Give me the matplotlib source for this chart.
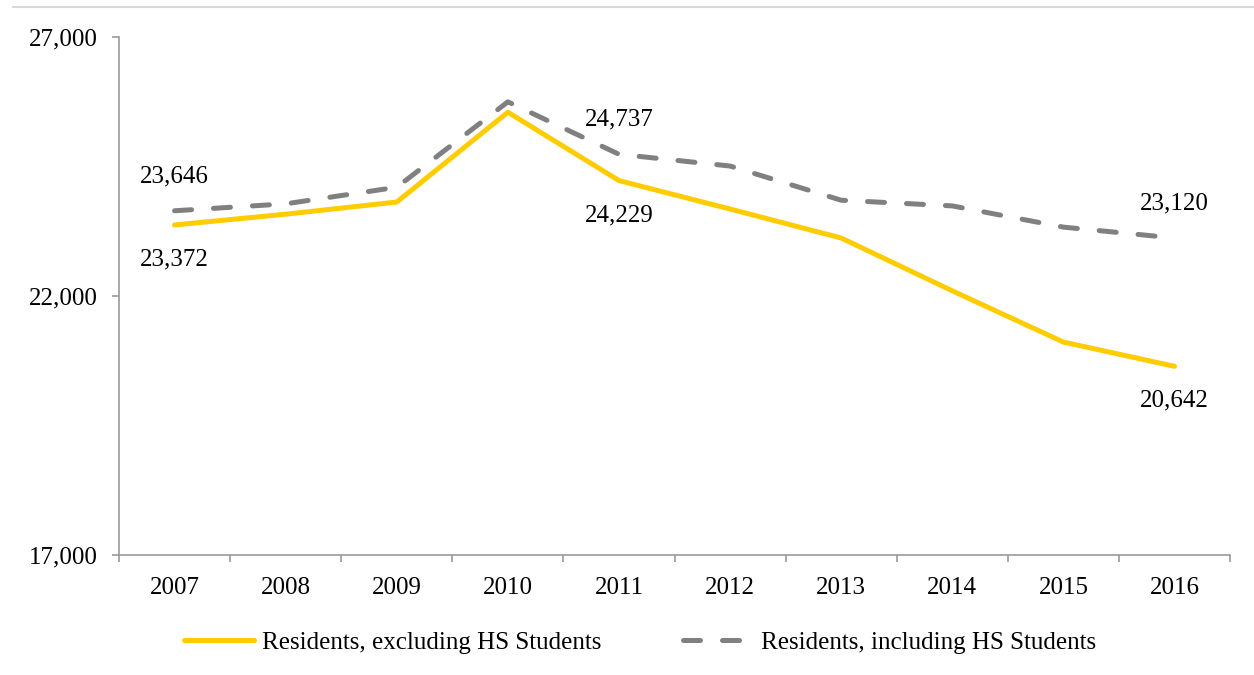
import matplotlib
matplotlib.use('Agg')
import matplotlib.pyplot as plt
from matplotlib.lines import Line2D

# data
years = ['2007', '2008', '2009', '2010', '2011', '2012', '2013', '2014', '2015', '2016']
excl_hs = [23372, 23580, 23815, 25550, 24229, 23680, 23120, 22100, 21110, 20642]
incl_hs = [23646, 23780, 24100, 25750, 24737, 24510, 23850, 23740, 23330, 23120]
yticks = [17000, 22000, 27000]

plt.rcParams['font.family'] = ['Liberation Serif', 'DejaVu Serif']
FS = 18

fig = plt.figure(figsize=(12.54, 6.75), dpi=100)
ax = fig.add_axes([0.0949, 0.178, 0.886, 0.767])

x = list(range(len(years)))
ax.plot(x, excl_hs, color='#FFCC00', lw=3.6, solid_capstyle='round',
        label='Residents, excluding HS Students')
ax.plot(x, incl_hs, color='#808080', lw=3.6, dashes=(3.4, 4.4), dash_capstyle='round',
        label='Residents, including HS Students')

# data labels
for i in [0, 4, 9]:
    ax.annotate(f'{incl_hs[i]:,}', (i, incl_hs[i]), xytext=(0, 17), textcoords='offset points',
                ha='center', va='bottom', fontsize=FS)
    ax.annotate(f'{excl_hs[i]:,}', (i, excl_hs[i]), xytext=(0, -17), textcoords='offset points',
                ha='center', va='top', fontsize=FS)

ax.set_xlim(-0.5, len(years) - 0.5)
ax.set_ylim(17000, 27000)
ax.set_yticks(yticks)
ax.set_yticklabels([f'{v:,}' for v in yticks], fontsize=FS)
ax.set_xticks(x)
ax.set_xticklabels(years, fontsize=FS)
ax.set_xticks([i - 0.5 for i in range(len(years) + 1)], minor=True)
ax.tick_params(axis='x', which='major', length=0, pad=16)
ax.tick_params(axis='x', which='minor', length=5, color='#999999', width=1.2)
ax.tick_params(axis='y', length=5, color='#999999', width=1.2, pad=10)

for s in ['top', 'right']:
    ax.spines[s].set_visible(False)
for s in ['left', 'bottom']:
    ax.spines[s].set_color('#999999')
    ax.spines[s].set_linewidth(1.2)

ax.legend(loc='upper center', bbox_to_anchor=(0.469, -0.105), ncol=2, frameon=False,
          fontsize=FS, handlelength=2.8, columnspacing=3.3, handletextpad=0.3)

# thin rule at the top where the title was cut off
fig.add_artist(Line2D([0.01, 1.0], [0.99, 0.99], color='#d9d9d9', lw=1.5))

fig.savefig('out.png', dpi=100)
